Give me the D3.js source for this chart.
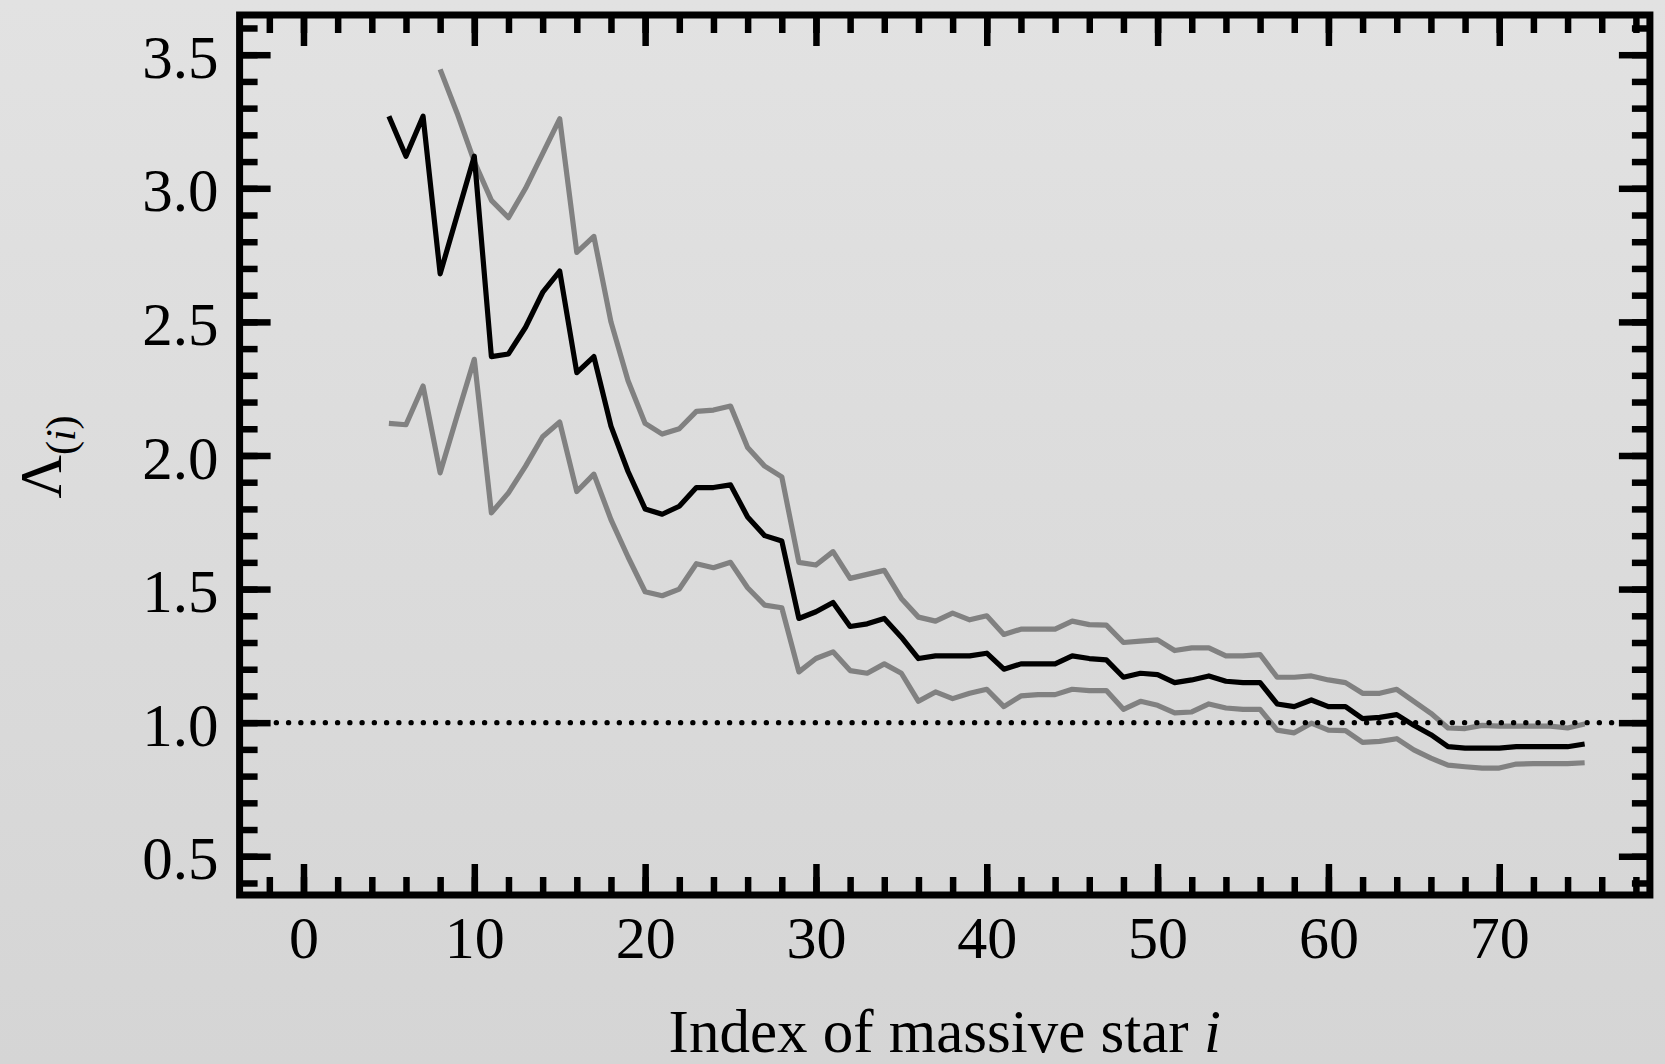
<!DOCTYPE html>
<html>
<head>
<meta charset="utf-8">
<script src="https://cdn.jsdelivr.net/npm/d3@7"></script>
<style>
  html, body { margin: 0; padding: 0; }
  body { width: 1665px; height: 1064px; overflow: hidden; }
  svg { display: block; }
  text { font-family: "Liberation Serif", "Times New Roman", serif; fill: #000; }
</style>
</head>
<body>
<script>
// ---- data ----
const meanStart = 5;    // first index i of the mean curve
const lowerStart = 5;   // first index i of the lower band curve
const upperStart = 8;   // first index i of the upper band curve

const meanValues = [3.27,3.12,3.27,2.68,2.90,3.12,2.37,2.38,2.48,2.61,
  2.69,2.31,2.37,2.11,1.94,1.80,1.78,1.81,1.88,1.88,
  1.89,1.77,1.70,1.68,1.39,1.415,1.45,1.36,1.37,1.39,
  1.32,1.24,1.25,1.25,1.25,1.26,1.20,1.22,1.22,1.22,
  1.25,1.24,1.235,1.17,1.185,1.18,1.15,1.16,1.175,1.155,
  1.15,1.15,1.07,1.06,1.085,1.06,1.06,1.015,1.02,1.03,
  0.99,0.955,0.91,0.905,0.905,0.905,0.91,0.91,0.91,0.91,0.92];

const upperValues = [3.445,3.28,3.10,2.955,2.89,3.00,3.13,3.26,2.76,2.82,
  2.50,2.28,2.12,2.08,2.10,2.165,2.17,2.185,2.03,1.96,
  1.92,1.60,1.59,1.64,1.54,1.555,1.57,1.465,1.395,1.38,
  1.41,1.385,1.40,1.33,1.35,1.35,1.35,1.38,1.367,1.365,
  1.30,1.305,1.31,1.27,1.28,1.28,1.25,1.25,1.255,1.17,
  1.17,1.175,1.16,1.15,1.11,1.11,1.125,1.08,1.035,0.98,
  0.978,0.99,0.987,0.987,0.987,0.987,0.98,0.995];

const lowerValues = [2.12,2.115,2.26,1.935,2.15,2.36,1.785,1.86,1.96,2.07,
  2.125,1.865,1.93,1.76,1.62,1.49,1.475,1.50,1.595,1.58,
  1.60,1.505,1.44,1.43,1.19,1.24,1.265,1.195,1.185,1.22,
  1.185,1.08,1.115,1.09,1.11,1.125,1.06,1.10,1.105,1.105,
  1.125,1.12,1.12,1.05,1.08,1.065,1.037,1.04,1.07,1.055,
  1.05,1.05,0.972,0.962,0.998,0.972,0.97,0.926,0.93,0.94,
  0.898,0.867,0.841,0.835,0.83,0.83,0.845,0.847,0.847,0.847,0.85];

const referenceLevel = 1.0;

const xMajorTicks = [0,10,20,30,40,50,60,70];
const xMinorTicks = [-2,0,2,4,6,8,10,12,14,16,18,20,22,24,26,28,30,32,34,36,38,40,42,44,46,48,50,52,54,56,58,60,62,64,66,68,70,72,74,76,78];
const yMajorTicks = [0.5,1.0,1.5,2.0,2.5,3.0,3.5];
const yMinorTicks = [0.4,0.5,0.6,0.7,0.8,0.9,1.0,1.1,1.2,1.3,1.4,1.5,1.6,1.7,1.8,1.9,2.0,2.1,2.2,2.3,2.4,2.5,2.6,2.7,2.8,2.9,3.0,3.1,3.2,3.3,3.4,3.5,3.6];

const xTitle = "Index of massive star ";
const xTitleItalic = "i";

// ---- layout ----
const W = 1665, H = 1064;
const pL = 239.6, pR = 1649.9, pT = 15, pB = 895;

const svg = d3.select("body").append("svg").attr("width", W).attr("height", H);

const defs = svg.append("defs");
const grad = defs.append("linearGradient").attr("id", "bg").attr("x1", 0).attr("y1", 0).attr("x2", 0).attr("y2", 1);
grad.append("stop").attr("offset", "0%").attr("stop-color", "#e2e2e2");
grad.append("stop").attr("offset", "100%").attr("stop-color", "#d5d5d5");
svg.append("rect").attr("width", W).attr("height", H).attr("fill", "url(#bg)");

const x = d3.scaleLinear().domain([-3.74, 78.82]).range([pL, pR]);
const y = d3.scaleLinear().domain([0.355, 3.6486]).range([pB, pT]);

const toPts = (vals, start) => vals.map((v, k) => ({ i: start + k, v }));
const line = d3.line().x(d => x(d.i)).y(d => y(d.v));

const series = [
  { pts: toPts(upperValues, upperStart), color: "#818181" },
  { pts: toPts(lowerValues, lowerStart), color: "#818181" },
  { pts: toPts(meanValues, meanStart), color: "#000000" }
];
svg.append("g").selectAll("path").data(series).join("path")
  .attr("d", d => line(d.pts))
  .attr("fill", "none")
  .attr("stroke", d => d.color)
  .attr("stroke-width", 5.2)
  .attr("stroke-linejoin", "round");

// reference dotted line
svg.append("line")
  .attr("x1", pL).attr("x2", pR)
  .attr("y1", y(referenceLevel)).attr("y2", y(referenceLevel))
  .attr("stroke", "#000").attr("stroke-width", 5.4)
  .attr("stroke-linecap", "round")
  .attr("stroke-dasharray", "0 12.25");

// ---- axes ----
const tickW = 6.5, major = 31, minor = 18;
function styleAxis(g) {
  g.select(".domain").remove();
  g.selectAll(".tick line").attr("stroke", "#000").attr("stroke-width", tickW);
}
// bottom
svg.append("g").attr("transform", `translate(0,${pB})`)
  .call(d3.axisBottom(x).tickValues(xMinorTicks).tickSize(-minor).tickFormat(""))
  .call(styleAxis);
const gb = svg.append("g").attr("transform", `translate(0,${pB})`)
  .call(d3.axisBottom(x).tickValues(xMajorTicks).tickSize(-major).tickFormat(d3.format("d")))
  .call(styleAxis);
gb.selectAll(".tick text").attr("y", 63).attr("dy", null)
  .style("font-size", "60px").style("font-family", "'Liberation Serif', serif").attr("fill", "#000");
// top
svg.append("g").attr("transform", `translate(0,${pT})`)
  .call(d3.axisTop(x).tickValues(xMinorTicks).tickSize(-minor).tickFormat(""))
  .call(styleAxis);
svg.append("g").attr("transform", `translate(0,${pT})`)
  .call(d3.axisTop(x).tickValues(xMajorTicks).tickSize(-major).tickFormat(""))
  .call(styleAxis);
// left
svg.append("g").attr("transform", `translate(${pL},0)`)
  .call(d3.axisLeft(y).tickValues(yMinorTicks).tickSize(-minor).tickFormat(""))
  .call(styleAxis);
const gl = svg.append("g").attr("transform", `translate(${pL},0)`)
  .call(d3.axisLeft(y).tickValues(yMajorTicks).tickSize(-major).tickFormat(d3.format(".1f")))
  .call(styleAxis);
gl.selectAll(".tick text").attr("x", -21).attr("dy", "0.37em")
  .style("font-size", "61px").style("font-family", "'Liberation Serif', serif").attr("fill", "#000");
// right
svg.append("g").attr("transform", `translate(${pR},0)`)
  .call(d3.axisRight(y).tickValues(yMinorTicks).tickSize(-minor).tickFormat(""))
  .call(styleAxis);
svg.append("g").attr("transform", `translate(${pR},0)`)
  .call(d3.axisRight(y).tickValues(yMajorTicks).tickSize(-major).tickFormat(""))
  .call(styleAxis);

// frame
svg.append("rect")
  .attr("x", pL).attr("y", pT).attr("width", pR - pL).attr("height", pB - pT)
  .attr("fill", "none").attr("stroke", "#000").attr("stroke-width", 7);

// x title
const xt = svg.append("text")
  .attr("x", (pL + pR) / 2).attr("y", 1052)
  .attr("text-anchor", "middle").style("font-size", "61px");
xt.append("tspan").text(xTitle);
xt.append("tspan").style("font-style", "italic").text(xTitleItalic);

// y title: Λ_(i)
const yt = svg.append("text")
  .attr("transform", `translate(61,${(pT + pB) / 2 + 2}) rotate(-90)`)
  .attr("text-anchor", "middle").style("font-size", "60px");
yt.append("tspan").text("Λ");
yt.append("tspan").attr("dy", 14).style("font-size", "42px").text("(");
yt.append("tspan").style("font-size", "42px").style("font-style", "italic").text("i");
yt.append("tspan").style("font-size", "42px").text(")");
</script>
</body>
</html>
